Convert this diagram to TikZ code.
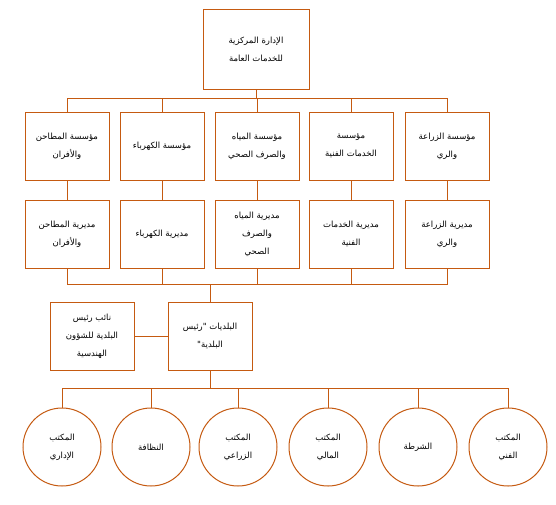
\documentclass[tikz,border=0pt]{standalone}
\usepackage{fontspec}
\newfontfamily\arabicfont[Script=Arabic]{DejaVu Sans}
\TeXXeTstate=1
\newcommand{\rl}[1]{\beginR#1\endR}
\definecolor{laranja}{RGB}{197,90,17}

\begin{document}
\begin{tikzpicture}[
    x=1pt, y=-1pt,
    % Caixas das unidades
    caixa/.style={
        draw=laranja, line width=1pt, fill=white,
        font=\arabicfont\fontsize{8.5}{18}\selectfont,
        minimum width=84pt, minimum height=68pt,
        align=center, inner sep=2pt
    },
    % Escritórios (círculos)
    circulo/.style={
        draw=laranja, line width=1pt, fill=white, circle,
        font=\arabicfont\fontsize{8.5}{18}\selectfont,
        minimum size=78pt, align=center, inner sep=1pt
    },
    linha/.style={draw=laranja, line width=1pt}
]
\useasboundingbox (0,0) rectangle (556,504);

% ---- NÍVEL 0: RAIZ ----
\node[caixa, minimum width=106pt, minimum height=80pt] (raiz) at (256,49)
    {\rl{الإدارة المركزية}\\\rl{للخدمات العامة}};

% ---- NÍVEL 1: MUASSASAT ----
\node[caixa] (m1) at ( 67,146) {\rl{مؤسسة المطاحن}\\\rl{والأفران}};
\node[caixa] (m2) at (162,146) {\rl{مؤسسة الكهرباء}};
\node[caixa] (m3) at (257,146) {\rl{مؤسسة المياه}\\\rl{والصرف الصحي}};
\node[caixa] (m4) at (351,146) {\rl{مؤسسة}\\\rl{الخدمات الفنية}};
\node[caixa] (m5) at (447,146) {\rl{مؤسسة الزراعة}\\\rl{والري}};

\coordinate (bif_m) at (256,98);
\draw[linha] (raiz.south) -- (bif_m);
\draw[linha] (bif_m) -| (m1.north);
\draw[linha] (bif_m) -| (m2.north);
\draw[linha] (bif_m) -| (m3.north);
\draw[linha] (bif_m) -| (m4.north);
\draw[linha] (bif_m) -| (m5.north);

% ---- NÍVEL 2: MUDIRIYAT ----
\node[caixa] (d1) at ( 67,234) {\rl{مديرية المطاحن}\\\rl{والأفران}};
\node[caixa] (d2) at (162,234) {\rl{مديرية الكهرباء}};
\node[caixa] (d3) at (257,234) {\rl{مديرية المياه}\\\rl{والصرف}\\\rl{الصحي}};
\node[caixa] (d4) at (351,234) {\rl{مديرية الخدمات}\\\rl{الفنية}};
\node[caixa] (d5) at (447,234) {\rl{مديرية الزراعة}\\\rl{والري}};

\draw[linha] (m1.south) -- (d1.north);
\draw[linha] (m2.south) -- (d2.north);
\draw[linha] (m3.south) -- (d3.north);
\draw[linha] (m4.south) -- (d4.north);
\draw[linha] (m5.south) -- (d5.north);

% ---- NÍVEL 3: PRESIDÊNCIA ----
\node[caixa] (pres) at (210,336) {\rl{البلديات "رئيس}\\\rl{البلدية"}};
\node[caixa] (vice) at ( 92,336) {\rl{نائب رئيس}\\\rl{البلدية للشؤون}\\\rl{الهندسية}};

\coordinate (merge_d) at (210,284);
\draw[linha] (d1.south) |- (merge_d);
\draw[linha] (d2.south) |- (merge_d);
\draw[linha] (d3.south) |- (merge_d);
\draw[linha] (d4.south) |- (merge_d);
\draw[linha] (d5.south) |- (merge_d);
\draw[linha] (merge_d) -- (pres.north);
\draw[linha] (vice.east) -- (pres.west);

% ---- NÍVEL 4: ESCRITÓRIOS ----
\node[circulo] (c1) at ( 62,447) {\rl{المكتب}\\\rl{الإداري}};
\node[circulo] (c2) at (151,447) {\rl{النظافة}};
\node[circulo] (c3) at (238,447) {\rl{المكتب}\\\rl{الزراعي}};
\node[circulo] (c4) at (328,447) {\rl{المكتب}\\\rl{المالي}};
\node[circulo] (c5) at (418,447) {\rl{الشرطة}};
\node[circulo] (c6) at (508,447) {\rl{المكتب}\\\rl{الفني}};

\coordinate (bif_c) at (210,388);
\draw[linha] (pres.south) -- (bif_c);
\draw[linha] (bif_c) -| (c1.north);
\draw[linha] (bif_c) -| (c2.north);
\draw[linha] (bif_c) -| (c3.north);
\draw[linha] (bif_c) -| (c4.north);
\draw[linha] (bif_c) -| (c5.north);
\draw[linha] (bif_c) -| (c6.north);

\end{tikzpicture}
\end{document}
